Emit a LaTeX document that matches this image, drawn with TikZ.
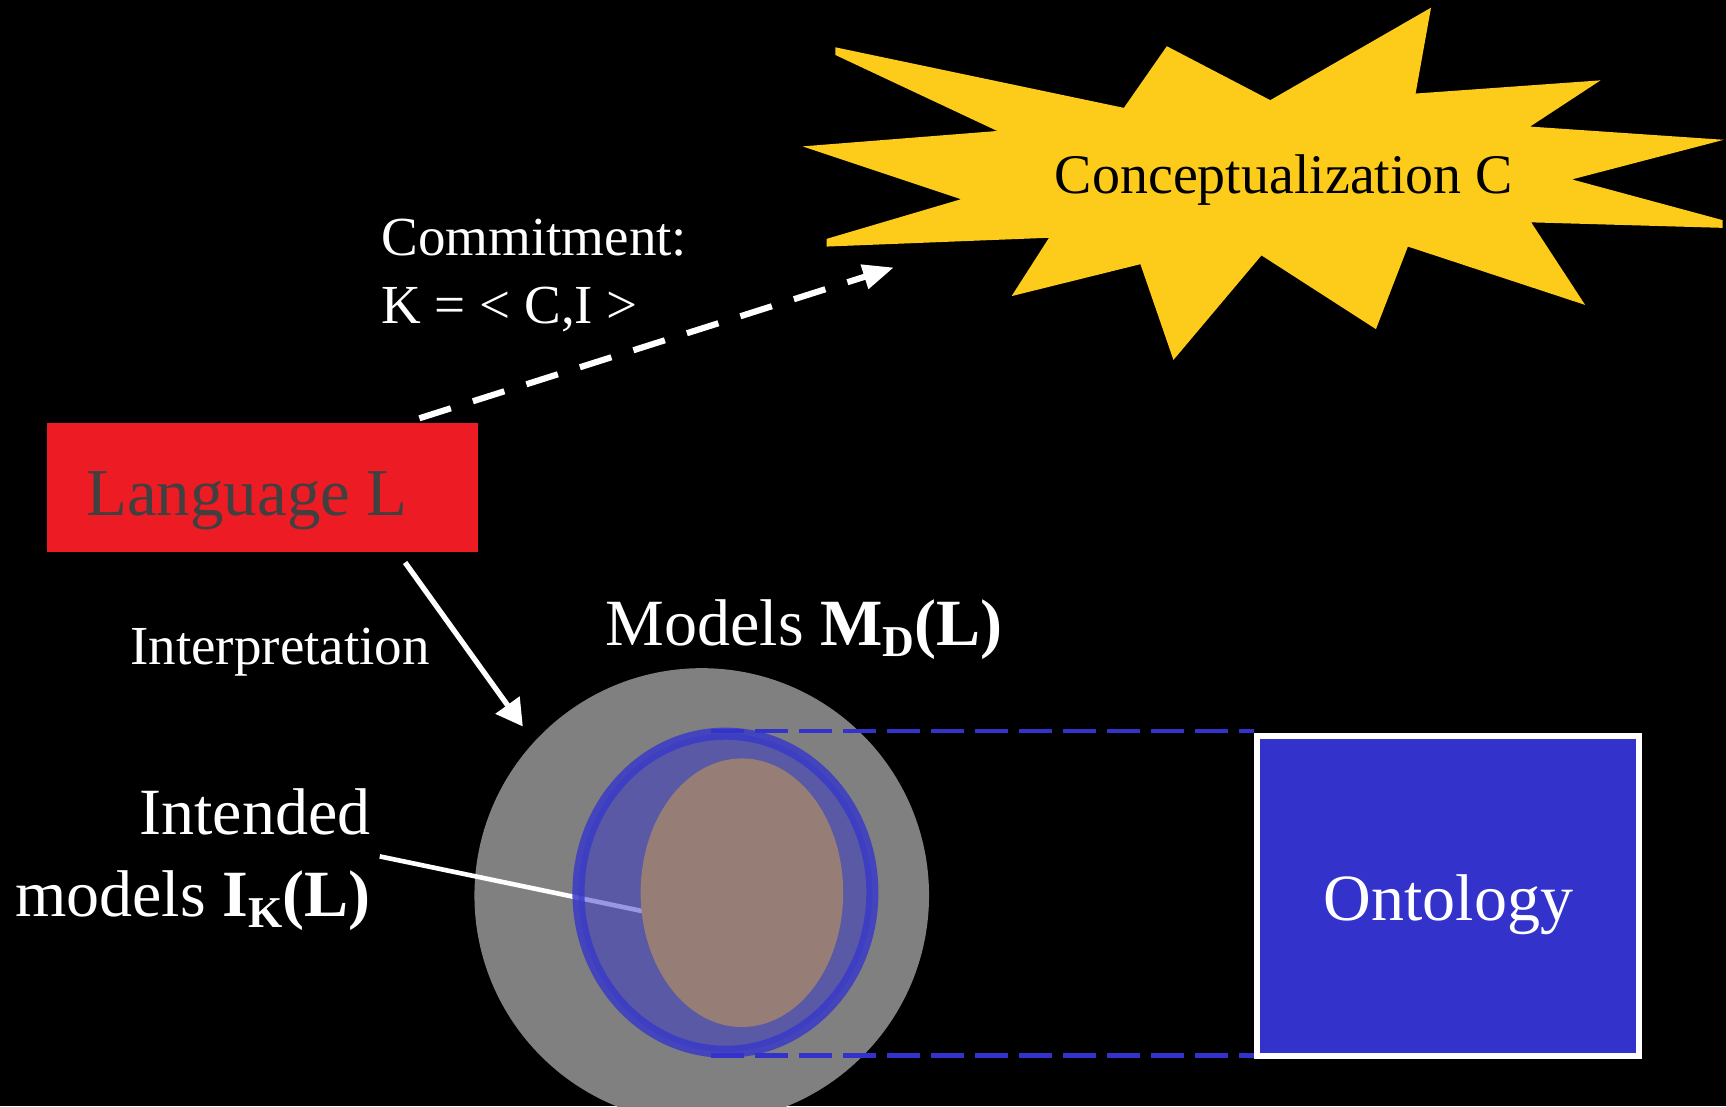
\documentclass[tikz,border=0pt]{standalone}
\usepackage{fontspec}
\setmainfont{Liberation Serif}
\usetikzlibrary{arrows.meta,shapes.geometric}
\definecolor{starY}{HTML}{FDCB1A}
\definecolor{langR}{HTML}{ED1C24}
\definecolor{langT}{HTML}{404040}
\definecolor{ontoB}{HTML}{3333CC}
\definecolor{grayC}{HTML}{808080}
\definecolor{brownE}{HTML}{967E76}
\definecolor{ringB}{HTML}{3A3AC8}
\begin{document}
\begin{tikzpicture}[x=0.5pt,y=-0.5pt,
  midtext/.style={text=white, inner sep=0pt, font=\fontsize{25}{30}\selectfont},
  bigtext/.style={text=white, inner sep=0pt, font=\fontsize{30}{36}\selectfont},
  whitearrow/.style={draw=white, -{Triangle[length=11pt,width=11pt]}},
  bluedash/.style={draw=ontoB, line width=2.1pt, dash pattern=on 15pt off 5pt},
  pointer/.style={draw=white, line width=2.1pt}]
% background
\fill[black] (0,0) rectangle (1568,1005);
\useasboundingbox (0,0) rectangle (1568,1005);

% conceptualization star
\fill[starY] (759,43) -- (1021,98) -- (1060,42) -- (1154,91) -- (1300,7) -- (1286,85)
  -- (1454,73) -- (1390,115) -- (1566,127) -- (1428,163) -- (1565,200) -- (1565,207)
  -- (1391,202) -- (1440,277) -- (1279,224) -- (1250,299) -- (1146,232) -- (1066,327)
  -- (1036,240) -- (919,269) -- (953,216) -- (751,224) -- (751,217) -- (873,181)
  -- (729,133) -- (906,119) -- (759,50) -- cycle;
\node[anchor=base west, inner sep=0pt, text=black, font=\fontsize{25.4}{30}\selectfont]
  (concept) at (958,175.5) {Conceptualization C};

% commitment label
\node[midtext, anchor=base west] (commit1) at (346,232) {Commitment:};
\node[midtext, anchor=base west] (commit2) at (346,293.5) {K = < C,I >};

% language box
\node[fill=langR, minimum width=195.65pt, minimum height=58.25pt, inner sep=0pt]
  (lang) at (238.4,442.8) {};
\node[anchor=base west, inner sep=0pt, text=langT, font=\fontsize{30.4}{36}\selectfont]
  (langtxt) at (78,468) {Language L};

% commitment dashed arrow
\coordinate (cstart) at (381,380);
\coordinate (cend) at (812,243);
\draw[whitearrow, line width=2.8pt, dash pattern=on 15pt off 10.5pt,
  -{Triangle[length=14pt,width=11pt]}] (cstart) -- (cend);

% interpretation
\node[midtext, anchor=base west] (interp) at (118,604) {Interpretation};
\coordinate (istart) at (368,511);
\coordinate (iend) at (475,660);
\draw[whitearrow, line width=2.4pt, -{Triangle[length=12pt,width=13pt]}] (istart) -- (iend);

% models
\node[bigtext, anchor=base west] (modelslbl) at (550,586)
  {Models \textbf{M}\raisebox{-5pt}{\fontsize{20}{20}\selectfont\bfseries D}\textbf{(L)}};
\node[circle, fill=grayC, minimum size=206.5pt, inner sep=0pt] (models) at (637.5,813.5) {};

% intended models label and pointer
\node[bigtext, anchor=base east] (intended1) at (337,758.5) {Intended};
\node[bigtext, anchor=base east] (intended2) at (337,833)
  {models \textbf{I}\raisebox{-5pt}{\fontsize{20}{20}\selectfont\bfseries K}\textbf{(L)}};
\coordinate (pstart) at (345,778);
\coordinate (pend) at (585,828);
\draw[pointer] (pstart) -- (pend);

% intended ring and ellipse
\node[ellipse, draw=ringB, draw opacity=0.85, line width=5.5pt, fill=ontoB, fill opacity=0.5,
  minimum width=133.5pt, minimum height=144.5pt, inner sep=0pt] (ring) at (659,811) {};
\node[ellipse, fill=brownE, minimum width=92pt, minimum height=122pt, inner sep=0pt]
  (intended) at (674,811) {};

% ontology
\node[draw=white, line width=2.75pt, fill=ontoB, minimum width=173.75pt,
  minimum height=145.25pt, inner sep=0pt] (onto) at (1315.5,814) {};
\node[bigtext, anchor=base] (ontotxt) at (1316,836) {Ontology};

% dashed projection lines
\coordinate (dtop) at (646,664);
\coordinate (dbot) at (646,959);
\draw[bluedash] (dtop) -- (dtop -| onto.west);
\draw[bluedash] (dbot) -- (dbot -| onto.west);
\end{tikzpicture}
\end{document}
